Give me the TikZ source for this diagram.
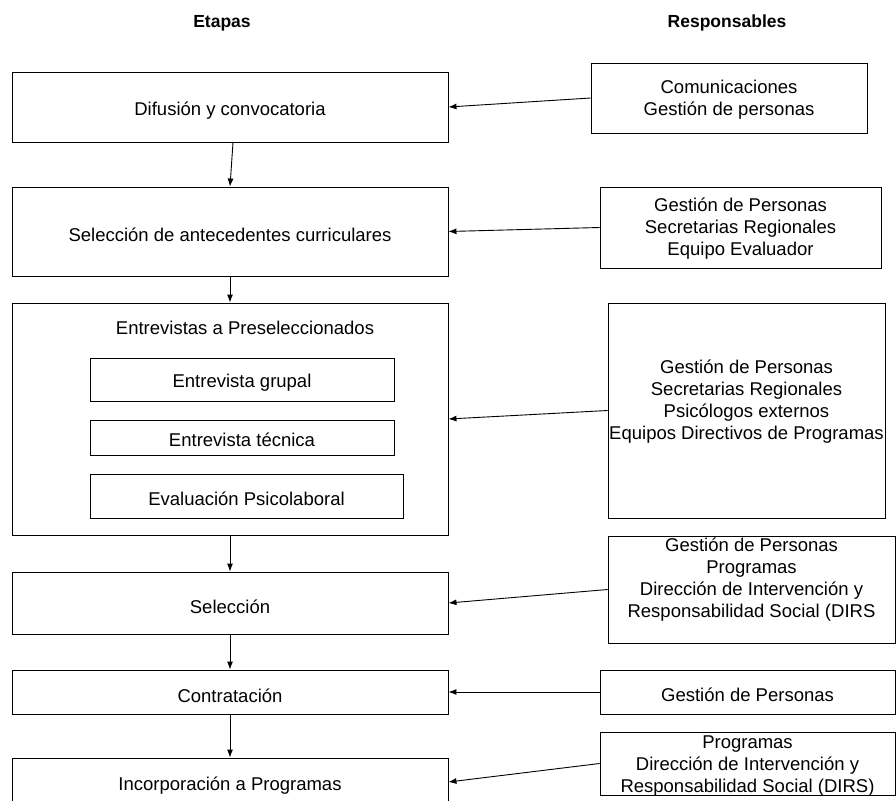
\documentclass[tikz,border=0pt]{standalone}
\usepackage{fontspec}
\setmainfont{Liberation Sans}
\usepackage{tikz}
\usetikzlibrary{arrows.meta}
\tikzstyle{etapa}=[rectangle,draw=black,line width=0.9pt,minimum width=436pt,
  inner sep=2pt,align=center,font=\fontsize{18.5}{22}\selectfont,
  execute at begin node={\rule{0pt}{20.5pt}}]
\tikzstyle{sub}=[rectangle,draw=black,line width=0.9pt,inner sep=2pt,
  align=center,font=\fontsize{18.5}{22}\selectfont,
  execute at begin node={\rule{0pt}{19pt}}]
\tikzstyle{resp}=[rectangle,draw=black,line width=0.9pt,inner sep=1pt,
  align=center,font=\fontsize{18.5}{22}\selectfont,
  execute at begin node={\rule{0pt}{19.5pt}}]
\tikzstyle{txt}=[inner sep=0pt,align=center,font=\fontsize{18.5}{22}\selectfont]
\tikzstyle{head}=[inner sep=0pt,font=\fontsize{17.5}{21}\selectfont\bfseries]
\tikzstyle{flecha}=[line width=0.9pt,-{Latex[length=8pt,width=6pt]}]

\begin{document}
\begin{tikzpicture}[x=1pt,y=-1pt]
        \useasboundingbox (0,0) rectangle (896,800);
        \clip (0,0) rectangle (896,800);
        \node[style=head] (h0) at (222, 23) {Etapas};
        \node[style=head] (h1) at (727, 23) {Responsables};
        % etapas
		\node[style=etapa,minimum height=70pt] (0) at (230, 107) {Difusión y convocatoria};
		\node[style=etapa,minimum height=89pt] (2) at (230, 231.5) {Selección de antecedentes curriculares};
		\node[style=etapa,minimum height=232pt] (4) at (230, 419) {};
		\node[style=txt] (4t) at (245, 328) {Entrevistas a Preseleccionados};
		\node[style=sub,minimum width=304pt,minimum height=43pt] (41) at (242, 379.5) {Entrevista grupal};
		\node[style=sub,minimum width=304pt,minimum height=35pt] (42) at (242, 437.5) {Entrevista técnica};
		\node[style=sub,minimum width=313pt,minimum height=44pt] (43) at (246.5, 496) {Evaluación Psicolaboral};
		\node[style=etapa,minimum height=62pt] (6) at (230, 603) {Selección};
		\node[style=etapa,minimum height=44pt] (8) at (230, 692) {Contratación};
		\node[style=etapa,minimum height=48pt] (10) at (230, 782) {Incorporación a Programas};
        % responsables
		\node[style=resp,minimum width=276pt,minimum height=70pt] (1) at (729, 98) {};
		\node[style=txt] (1t) at (729, 100) {Comunicaciones\\Gestión de personas};
		\node[style=resp,minimum width=281pt,minimum height=81pt] (3) at (740.5, 227.5) {};
		\node[style=txt] (3t) at (740.5, 229) {Gestión de Personas\\Secretarias Regionales\\Equipo Evaluador};
		\node[style=resp,minimum width=277pt,minimum height=215pt] (5) at (746.5, 410.5) {};
		\node[style=txt] (5t) at (746.5, 401.5) {Gestión de Personas\\Secretarias Regionales\\Psicólogos externos\\Equipos Directivos de Programas};
		\node[style=resp,minimum width=287pt,minimum height=107pt] (7) at (751.5, 589.5) {};
		\node[style=txt] (7t) at (751.5, 580) {Gestión de Personas\\Programas\\Dirección de Intervención y\\Responsabilidad Social (DIRS};
		\node[style=resp,minimum width=295pt,minimum height=44pt] (9) at (747.5, 692) {Gestión de Personas};
		\node[style=resp,minimum width=295pt,minimum height=63pt] (11) at (747.5, 763.5) {};
		\node[style=txt] (11t) at (747.5, 766) {Programas\\Dirección de Intervención y\\Responsabilidad Social (DIRS)};
        % flechas
		\draw[style=flecha] ([xshift=3pt]0.south) to (2.north);
		\draw[style=flecha] (2) to (4);
		\draw[style=flecha] (4) to (6);
		\draw[style=flecha] (6) to (8);
		\draw[style=flecha] (8) to (10);
		\draw[style=flecha] (1.west) to (0.east);
		\draw[style=flecha] (3.west) to (2.east);
		\draw[style=flecha] (5.west) to (4.east);
		\draw[style=flecha] (7.west) to (6.east);
		\draw[style=flecha] (9.west) to (8.east);
		\draw[style=flecha] (11.west) to (10.east);
    \end{tikzpicture}
\end{document}
